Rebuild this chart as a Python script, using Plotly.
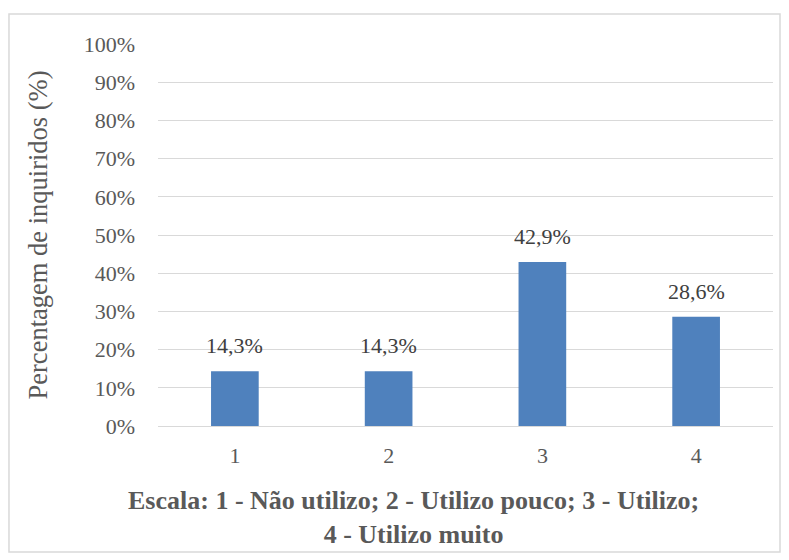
import plotly.graph_objects as go

# data
categories = ["1", "2", "3", "4"]
values = [0.143, 0.143, 0.429, 0.286]
value_labels = ["14,3%", "14,3%", "42,9%", "28,6%"]
y_ticks = [i / 10 for i in range(11)]
y_tick_labels = [f"{i * 10}%" for i in range(11)]

font_family = "Liberation Serif"
text_color = "#595959"

# the page puts the figure 8px in from the top-left corner
fig = go.Figure()

fig.add_trace(go.Bar(
    x=categories, y=values,
    marker=dict(color="#4F81BD", line=dict(width=0)),
    width=0.31,
))

# value labels above the bars (category axis -> position index)
for i, (val, lab) in enumerate(zip(values, value_labels)):
    fig.add_annotation(
        x=i, y=val, text=lab, showarrow=False,
        xanchor="center", yanchor="bottom", yshift=11,
        font=dict(size=22, color="#404040", family=font_family),
    )

fig.update_layout(
    width=781, height=552,
    margin=dict(l=150, r=16, t=36, b=134),
    plot_bgcolor="white",
    paper_bgcolor="white",
    showlegend=False,
    font=dict(family=font_family, color=text_color, size=22),
    xaxis=dict(
        type="category",
        range=[-0.5, len(categories) - 0.5],
        showgrid=False,
        showline=True, linecolor="#D9D9D9", linewidth=1,
        ticks="", ticklabelstandoff=10,
        tickfont=dict(size=22, color=text_color),
    ),
    yaxis=dict(
        range=[0, 1],
        tickvals=y_ticks, ticktext=y_tick_labels,
        showgrid=True, gridcolor="#D9D9D9", gridwidth=1,
        zeroline=False, showline=False, ticks="",
        ticklabelstandoff=22,
        tickfont=dict(size=22, color=text_color),
        title=dict(text="Percentagem de inquiridos (%)",
                   font=dict(size=26.5, color=text_color), standoff=28),
    ),
    shapes=[dict(type="rect", xref="paper", yref="paper",
                 x0=-0.2423, x1=1.0114, y0=-0.3298, y1=1.0785,
                 line=dict(color="#D9D9D9", width=1.5), layer="below")],
)

fig.add_annotation(
    text="<b>Escala: 1 - Não utilizo; 2 - Utilizo pouco; 3 - Utilizo;<br>4 - Utilizo muito</b>",
    xref="paper", yref="paper", x=0.416, y=-0.152,
    xanchor="center", yanchor="top", showarrow=False,
    font=dict(size=26, color=text_color, family=font_family),
)

fig.write_html("out.html")
